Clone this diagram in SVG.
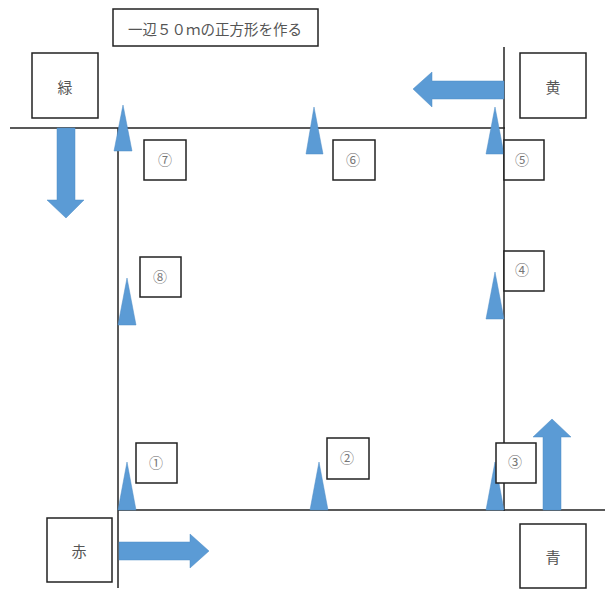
<svg xmlns="http://www.w3.org/2000/svg" width="605" height="589" viewBox="0 0 605 589">
<style>
.box{fill:#fff;stroke:#222;stroke-width:1.5}
.ln{stroke:#222;stroke-width:1.5;fill:none}
.bl{fill:#5b9bd5;stroke:#4f8cc6;stroke-width:0.5}
.t{font-family:"Noto Sans CJK JP","Noto Sans",sans-serif;fill:#555;text-anchor:middle;dominant-baseline:central}
.c{font-family:"Noto Sans CJK JP","DejaVu Sans",sans-serif;fill:#777;font-size:14px;text-anchor:middle;dominant-baseline:central}
</style>
<rect width="605" height="589" fill="#fff"/>
<g id="connectors">
<line class="ln" x1="10" y1="128" x2="505" y2="128"/>
<line class="ln" x1="504" y1="47" x2="504" y2="511"/>
<line class="ln" x1="118" y1="128" x2="118" y2="588"/>
<line class="ln" x1="118" y1="510" x2="605" y2="510"/>
<polygon class="bl" points="57,128 75,128 75,200 84,200 66,218 47,200 57,200"/>
<polygon class="bl" points="504,81 504,99 432,99 432,107 413,89 432,72 432,81"/>
<polygon class="bl" points="119,542 190,542 190,534 209,551 190,568 190,560 119,560"/>
<polygon class="bl" points="543,510 543,437 533,437 552,419 571,437 561,437 561,510"/>
<polygon class="bl" points="123,105 114,151 132,151"/>
<polygon class="bl" points="314,107 306,154 323,154"/>
<polygon class="bl" points="495,107 486,154 504,154"/>
<polygon class="bl" points="495,272 486,319 504,319"/>
<polygon class="bl" points="127,278 118,325 136,325"/>
<polygon class="bl" points="127,462 118,510 136,510"/>
<polygon class="bl" points="319,462 310,510 328,510"/>
<polygon class="bl" points="495,462 486,510 504,510"/>
</g>
<g id="title"><rect class="box" x="113" y="9" width="205" height="37"/><text class="t" x="215" y="28" font-size="14.5">一辺５０ｍの正方形を作る</text></g>
<g id="green"><rect class="box" x="32" y="53" width="66" height="65"/><text class="t" x="65" y="86" font-size="15">緑</text></g>
<g id="yellow"><rect class="box" x="520" y="53" width="66" height="65"/><text class="t" x="553" y="86" font-size="15">黄</text></g>
<g id="red"><rect class="box" x="47" y="518" width="65" height="64"/><text class="t" x="79" y="550" font-size="15">赤</text></g>
<g id="blue"><rect class="box" x="520" y="524" width="66" height="64"/><text class="t" x="553" y="556" font-size="15">青</text></g>
<g id="p1"><rect class="box" x="136" y="443" width="41" height="40"/><text class="c" x="156" y="462">①</text></g>
<g id="p2"><rect class="box" x="327" y="438" width="42" height="41"/><text class="c" x="347" y="457">②</text></g>
<g id="p3"><rect class="box" x="496" y="443" width="40" height="40"/><text class="c" x="515" y="461">③</text></g>
<g id="p4"><rect class="box" x="504" y="251" width="40" height="40"/><text class="c" x="522" y="269">④</text></g>
<g id="p5"><rect class="box" x="504" y="140" width="40" height="40"/><text class="c" x="522" y="159">⑤</text></g>
<g id="p6"><rect class="box" x="333" y="140" width="42" height="40"/><text class="c" x="353" y="159">⑥</text></g>
<g id="p7"><rect class="box" x="144" y="140" width="42" height="40"/><text class="c" x="165" y="159">⑦</text></g>
<g id="p8"><rect class="box" x="140" y="257" width="41" height="40"/><text class="c" x="160" y="276">⑧</text></g>
</svg>
